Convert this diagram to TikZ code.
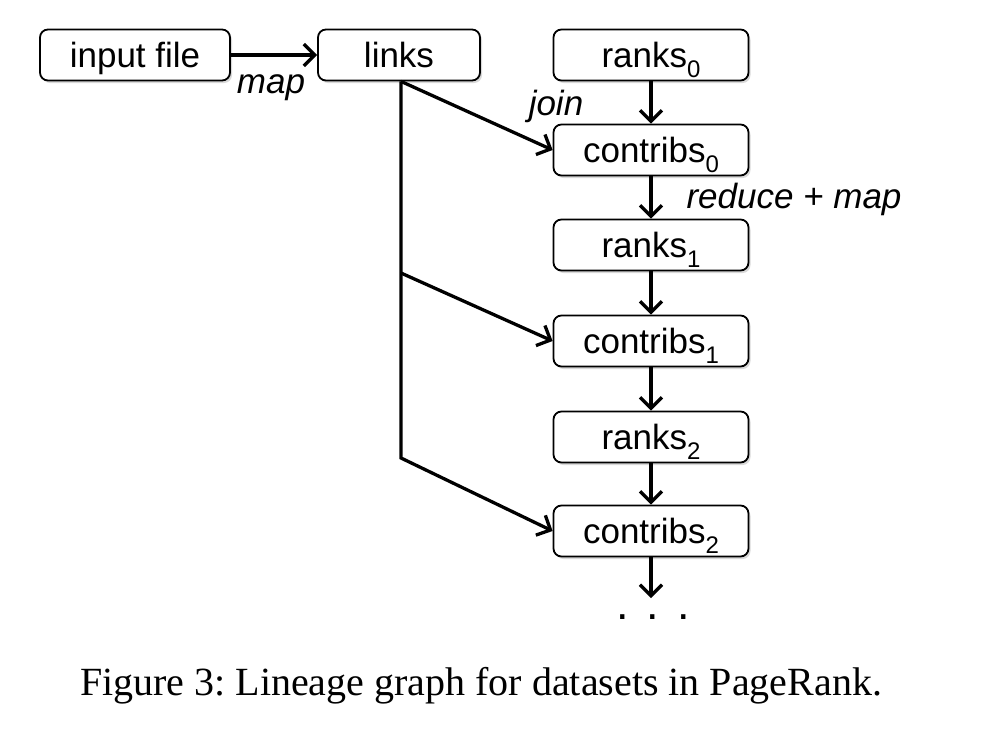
\documentclass[tikz,border=0pt]{standalone}
\usepackage{fontspec}
\setmainfont{Liberation Serif}
\setsansfont{Liberation Sans}
\usetikzlibrary{arrows.meta,shadows}
\newcommand{\sbs}[1]{\raisebox{-0.3em}{\fontsize{24}{24}\selectfont #1}}
\frenchspacing
\begin{document}
\begin{tikzpicture}[x=1pt,y=-1pt,
  box/.style={draw, line width=1.8pt, rounded corners=8pt, fill=white,
    minimum height=51pt, inner sep=0pt, text height=26pt, text depth=2pt,
    font=\fontsize{35}{40}\selectfont\sffamily,
    drop shadow={shadow xshift=2pt, shadow yshift=-2.5pt, opacity=0.3}},
  conn/.style={line width=3.3pt, -{Straight Barb[length=11pt,width=22pt,line width=3.3pt]}},
  lbl/.style={font=\fontsize{35}{40}\selectfont\sffamily\itshape, inner sep=0pt},
]
\useasboundingbox (0,0) rectangle (990,734);
\node[box, minimum width=190pt] (input) at (135,55) {input file};
\node[box, minimum width=162pt] (links) at (399,55) {links};
\node[box, minimum width=195pt] (r0) at (651,55) {ranks\sbs{0}};
\node[box, minimum width=195pt] (c0) at (651,150) {contribs\sbs{0}};
\node[box, minimum width=195pt] (r1) at (651,245) {ranks\sbs{1}};
\node[box, minimum width=195pt] (c1) at (651,341) {contribs\sbs{1}};
\node[box, minimum width=195pt] (r2) at (651,437) {ranks\sbs{2}};
\node[box, minimum width=195pt] (c2) at (651,531) {contribs\sbs{2}};
\coordinate (b1) at (401,273);
\coordinate (b2) at (401,458);
\coordinate (end) at (651,598);

\draw[conn] (input) -- (links);
\draw[conn] (r0) -- (c0);
\draw[conn] (c0) -- (r1);
\draw[conn] (r1) -- (c1);
\draw[conn] (c1) -- (r2);
\draw[conn] (r2) -- (c2);
\draw[conn] (c2) -- (end);
\draw[conn] (links.south -| b1) -- (c0.west);
\draw[conn] (b1) -- (c1.west);
\draw[conn] (links.south -| b2) -- (b2) -- (c2.west);

\node[lbl] (lmap) at (271,88) {map};
\node[lbl] (ljoin) at (556,106) {join};
\node[lbl] (lred) at (794,199) {reduce + map};
\node[font=\fontsize{45}{45}\selectfont\sffamily, inner sep=0pt, anchor=base] (dots) at (653,619) {.\hspace{18pt}.\hspace{18pt}.};
\node[font=\fontsize{40}{48}\selectfont\rmfamily, inner sep=0pt] (cap) at (481,686) {Figure 3: Lineage graph for datasets in PageRank.};
\end{tikzpicture}
\end{document}
